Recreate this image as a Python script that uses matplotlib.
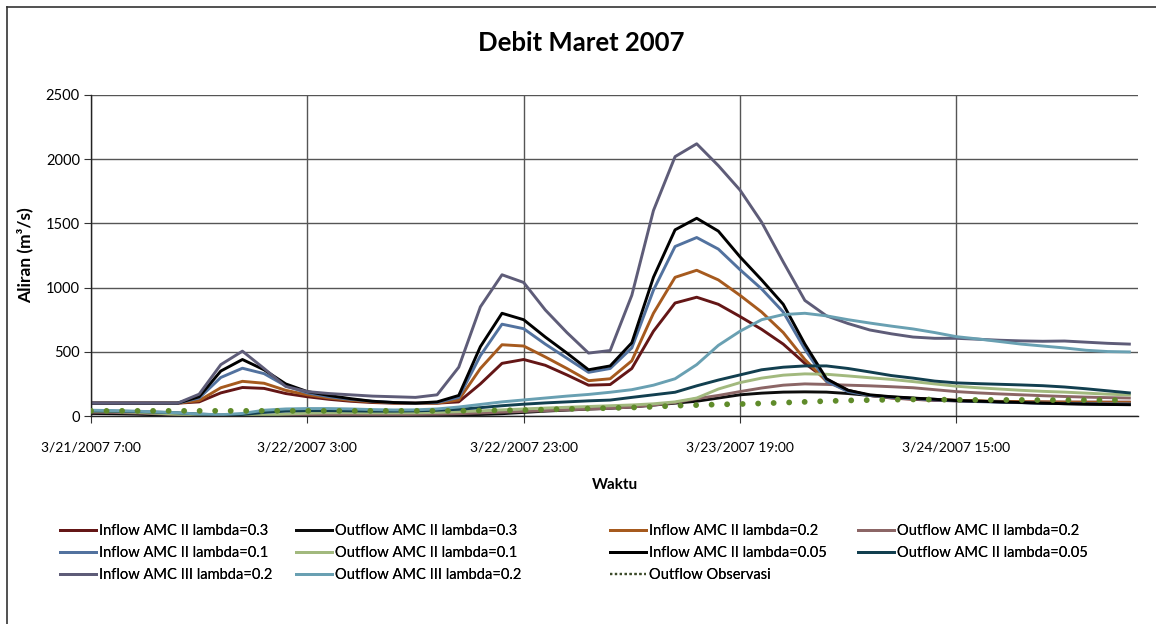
import datetime as dt

import matplotlib

matplotlib.use("Agg")
import matplotlib.pyplot as plt
from matplotlib.lines import Line2D
from matplotlib.ticker import FixedLocator, FuncFormatter

plt.rcParams["font.family"] = ["Liberation Sans Narrow", "Lato", "DejaVu Sans"]

START = dt.datetime(2007, 3, 21, 7, 0)

# hours since 3/21/2007 7:00, two-hourly
hours = list(range(0, 97, 2))

inflow_amc2_03 = [100, 100, 100, 100, 100, 110, 180, 222, 215, 175, 150, 130, 115, 105, 100, 100, 100,
                  110, 250, 410, 440, 395, 320, 240, 245, 370, 660, 880, 925, 870, 775, 675, 560, 410,
                  285, 200, 160, 140, 130, 122, 118, 114, 112, 110, 109, 108, 108, 108, 108]
outflow_amc2_03 = [20, 18, 15, 10, 5, 0, 0, 0, 0, 0, 2, 3, 4, 5, 5, 6, 7,
                   9, 12, 18, 28, 38, 46, 54, 60, 70, 85, 100, 115, 140, 165, 178, 186, 188,
                   186, 175, 160, 148, 138, 130, 122, 116, 110, 105, 100, 96, 93, 91, 90]
inflow_amc2_02 = [100, 100, 100, 100, 100, 120, 220, 270, 255, 200, 165, 140, 122, 110, 102, 100, 100,
                  125, 370, 555, 545, 460, 370, 275, 290, 430, 800, 1080, 1135, 1060, 940, 810, 650, 440,
                  270, 195, 160, 145, 135, 128, 122, 118, 114, 111, 109, 107, 106, 105, 105]
outflow_amc2_02 = [30, 28, 24, 18, 10, 2, 0, 0, 0, 3, 8, 10, 10, 10, 10, 12, 14,
                   18, 24, 30, 36, 42, 48, 54, 60, 70, 85, 105, 135, 160, 190, 218, 240, 250,
                   246, 240, 235, 228, 220, 205, 190, 180, 172, 165, 158, 152, 147, 143, 140]
inflow_amc2_01 = [100, 100, 100, 100, 100, 140, 300, 372, 330, 235, 180, 150, 130, 115, 105, 100, 105,
                  145, 470, 715, 680, 560, 450, 340, 370, 530, 980, 1320, 1390, 1300, 1140, 990, 810, 520,
                  270, 190, 160, 145, 135, 125, 118, 112, 108, 104, 100, 98, 96, 95, 94]
outflow_amc2_01 = [38, 35, 30, 22, 12, 3, 0, 0, 5, 15, 22, 25, 25, 24, 24, 25, 28,
                   33, 40, 48, 55, 62, 68, 74, 80, 86, 95, 110, 140, 210, 260, 295, 318, 328,
                   325, 312, 298, 285, 268, 250, 232, 220, 210, 200, 192, 186, 178, 170, 164]
inflow_amc2_005 = [100, 100, 100, 100, 100, 150, 350, 440, 360, 250, 190, 160, 135, 115, 105, 100, 110,
                   160, 540, 800, 750, 615, 490, 360, 390, 570, 1080, 1450, 1540, 1440, 1240, 1060, 870, 560,
                   290, 200, 165, 150, 140, 130, 120, 115, 110, 105, 100, 96, 93, 90, 88]
outflow_amc2_005 = [40, 38, 35, 30, 25, 15, 8, 12, 28, 38, 42, 42, 40, 38, 38, 40, 45,
                    52, 65, 80, 92, 102, 110, 118, 124, 145, 165, 185, 235, 280, 320, 360, 380, 390,
                    390, 370, 343, 315, 295, 272, 258, 252, 247, 242, 236, 226, 212, 196, 180]
inflow_amc3_02 = [100, 100, 100, 100, 100, 170, 400, 505, 370, 230, 190, 175, 165, 155, 150, 145, 165,
                  380, 850, 1100, 1040, 826, 650, 490, 510, 940, 1600, 2020, 2120, 1950, 1760, 1510, 1200, 900,
                  780, 720, 670, 640, 615, 605, 605, 598, 590, 585, 582, 584, 575, 566, 560]
outflow_amc3_02 = [45, 42, 38, 32, 25, 15, 10, 20, 45, 55, 58, 58, 55, 50, 47, 48, 55,
                   70, 90, 110, 125, 140, 155, 168, 185, 205, 240, 290, 400, 550, 660, 750, 790, 800,
                   780, 750, 724, 700, 678, 650, 618, 600, 580, 560, 545, 530, 512, 502, 499]
outflow_observed = [40, 40, 40, 40, 40, 40, 40, 40, 40, 40, 40, 40, 40, 40, 40, 40, 40,
                    40, 42, 44, 46, 50, 55, 58, 62, 66, 72, 80, 85, 90, 93, 98, 104, 110,
                    116, 121, 124, 127, 129, 128, 126, 125, 125, 125, 124, 124, 124, 124, 124]

labels = [
    "Inflow AMC II lambda=0.3", "Outflow AMC II lambda=0.3",
    "Inflow AMC II lambda=0.2", "Outflow AMC II lambda=0.2",
    "Inflow AMC II lambda=0.1", "Outflow AMC II lambda=0.1",
    "Inflow AMC II lambda=0.05", "Outflow AMC II lambda=0.05",
    "Inflow AMC III lambda=0.2", "Outflow AMC III lambda=0.2",
    "Outflow Observasi",
]
series = [
    inflow_amc2_03, outflow_amc2_03, inflow_amc2_02, outflow_amc2_02,
    inflow_amc2_01, outflow_amc2_01, inflow_amc2_005, outflow_amc2_005,
    inflow_amc3_02, outflow_amc3_02,
]
colors = [
    "#641616", "#0d0d0d", "#a65a1e", "#8c6666",
    "#52729f", "#a2b97e", "#000000", "#123f4f",
    "#5e5c78", "#69a0b2",
]
obs_color = "#5f8b2a"

fig = plt.figure(figsize=(11.56, 6.24), dpi=100)
ax = fig.add_axes([91 / 1156, 1 - 416 / 624, 1047 / 1156, 321 / 624])

handles = []
for y, c, lab in zip(series, colors, labels):
    (ln,) = ax.plot(hours, y, color=c, lw=2.1, label=lab, solid_joinstyle="round")
    handles.append(ln)

ax.plot(hours, outflow_observed, color=obs_color, lw=4.2,
        linestyle=(0, (0.01, 2.65)), dash_capstyle="round", zorder=5)
handles.append(Line2D([], [], color="#3c4a2a", lw=1.6, linestyle=(0, (1, 1.2))))

ax.set_xlim(0, 96.8)
ax.set_ylim(0, 2500)
ax.set_yticks(range(0, 2501, 500))
ax.xaxis.set_major_locator(FixedLocator([0, 20, 40, 60, 80]))


def fmt_time(h, pos):
    d = START + dt.timedelta(hours=float(h))
    return f"{d.month}/{d.day}/{d.year} {d.hour}:{d.minute:02d}"


ax.xaxis.set_major_formatter(FuncFormatter(fmt_time))
ax.grid(True, color="#555555", lw=1.0)
ax.set_axisbelow(True)
for side in ("top", "right"):
    ax.spines[side].set_visible(False)
for side in ("left", "bottom"):
    ax.spines[side].set_color("#222222")
    ax.spines[side].set_linewidth(1.0)
ax.tick_params(axis="both", labelsize=10.5, length=5, color="#333333", pad=3)
ax.tick_params(axis="x", labelsize=10, pad=13)

ax.set_ylabel("Aliran (m³/s)", fontsize=12.5, fontweight="bold", labelpad=9)
ax.set_xlabel("Waktu", fontsize=11, fontweight="bold", labelpad=18)
fig.text(581 / 1156, 1 - 43 / 624, "Debit Maret 2007", ha="center", va="center",
         fontsize=18.5, fontweight="bold")

# legend laid out row by row in four fixed-width columns
col_x = [60, 296, 610, 858]
for ci, x0 in enumerate(col_x):
    idx = [i for i in range(ci, len(labels), 4)]
    leg = fig.legend([handles[i] for i in idx], [labels[i] for i in idx],
                     loc="upper left", bbox_to_anchor=(x0 / 1156, 1 - 524 / 624),
                     frameon=False, fontsize=10.5, handlelength=2.5, handletextpad=0.2,
                     labelspacing=0.55, borderaxespad=0, borderpad=0)
    fig.add_artist(leg)

# outer chart frame
fig.add_artist(Line2D([7 / 1156, 1], [1 - 7 / 624, 1 - 7 / 624], transform=fig.transFigure,
                      color="#333333", lw=1.2))
fig.add_artist(Line2D([7 / 1156, 7 / 1156], [0, 1 - 7 / 624], transform=fig.transFigure,
                      color="#333333", lw=1.2))

fig.savefig("out.png", dpi=100)
